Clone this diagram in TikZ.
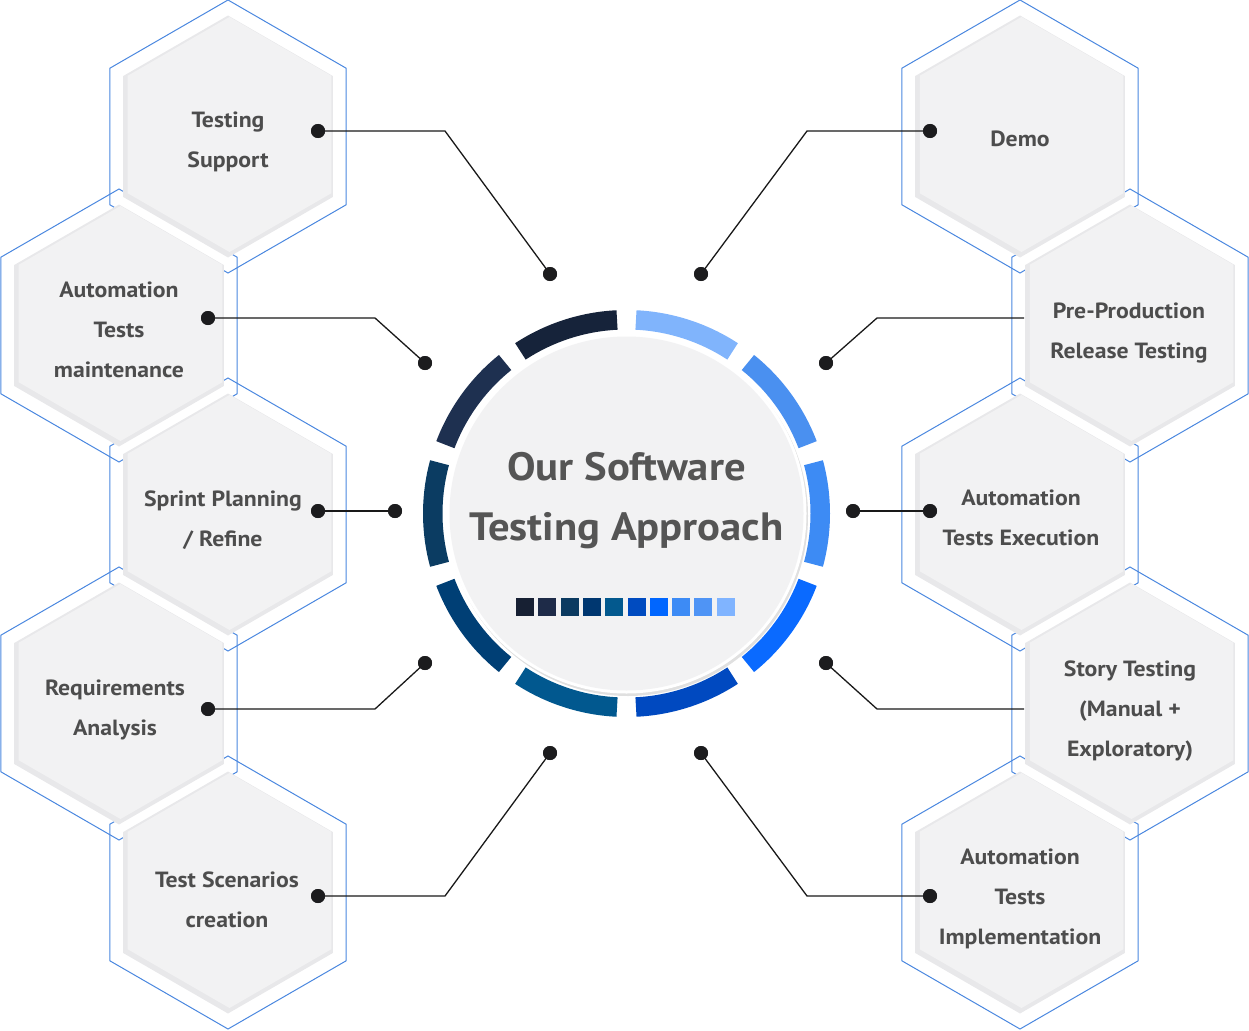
\documentclass[tikz,border=0pt]{standalone}
\usepackage{fontspec}
\setmainfont{PT Sans}[FakeStretch=1.08]
\usetikzlibrary{calc}
\definecolor{hexline}{HTML}{4A87DF}
\definecolor{hexedge}{HTML}{E8E8EA}
\definecolor{hexfill}{HTML}{F2F2F3}
\definecolor{txt}{HTML}{4D4D4D}
\definecolor{titletxt}{HTML}{555555}
\definecolor{dotc}{HTML}{1C1C1E}
\definecolor{cA}{HTML}{80B4FC}
\definecolor{cB}{HTML}{4A90F0}
\definecolor{cC}{HTML}{3D8BF4}
\definecolor{cD}{HTML}{0A6AFF}
\definecolor{cE}{HTML}{0049C0}
\definecolor{cF}{HTML}{01588F}
\definecolor{cG}{HTML}{003F75}
\definecolor{cH}{HTML}{0B3C62}
\definecolor{cI}{HTML}{1E3050}
\definecolor{cJ}{HTML}{16233A}
\newcommand{\hexpath}[2]{(#1) +(30:#2) -- +(90:#2) -- +(150:#2) -- +(210:#2) -- +(270:#2) -- +(330:#2) -- cycle}
\tikzset{
  hexout/.style={draw=hexline, line width=1},
  hexlabel/.style={align=center, text=txt, font=\bfseries\fontsize{22}{40}\selectfont},
  dot/.style={circle, fill=dotc, inner sep=0, minimum size=14},
  conn/.style={draw=black!90, line width=1.3},
  sq/.style={minimum size=18, inner sep=0}
}
\begin{document}
\begin{tikzpicture}[x=1pt,y=-1pt]
\useasboundingbox (0,0) rectangle (1249,1030);
% hexagon centres
\coordinate (h1) at (228,136.5);
\coordinate (h2) at (119,325.5);
\coordinate (h3) at (228,514.5);
\coordinate (h4) at (119,703.5);
\coordinate (h5) at (228,892.5);
\coordinate (h6) at (1020,136.5);
\coordinate (h7) at (1130,325.5);
\coordinate (h8) at (1020,514.5);
\coordinate (h9) at (1130,703.5);
\coordinate (h10) at (1020,892.5);
% outlines
\foreach \h in {h1,h2,h3,h4,h5,h6,h7,h8,h9,h10}{
  \path[hexout] \hexpath{\h}{136.5};
}
% grey hexagons
\foreach \h in {h1,h2,h3,h4,h5,h6,h7,h8,h9,h10}{
  \fill[hexedge] \hexpath{\h}{121};
  \fill[hexfill] \hexpath{[shift={(1.5,-2)}]\h}{117.5};
}
% labels
\node[hexlabel] (t1) at (228,142) {Testing\\Support};
\node[hexlabel] (t2) at (119,330) {Automation\\Tests\\maintenance};
\node[hexlabel] (t3) at (223,520) {Sprint Planning\\/ Refine};
\node[hexlabel] (t4) at (115,710) {Requirements\\Analysis};
\node[hexlabel] (t5) at (227,900) {Test Scenarios\\creation};
\node[hexlabel] (t6) at (1020,139) {Demo};
\node[hexlabel] (t7) at (1129,333) {Pre-Production\\Release Testing};
\node[hexlabel] (t8) at (1021,518) {Automation\\Tests Execution};
\node[hexlabel] (t9) at (1130,711) {Story Testing\\(Manual +\\Exploratory)};
\node[hexlabel] (t10) at (1020,899) {Automation\\Tests\\Implementation};
% centre circle
\coordinate (cc) at (626.5,513.5);
\foreach \a/\col in {-72/cA,-36/cB,0/cC,36/cD,72/cE,108/cF,144/cG,180/cH,216/cI,252/cJ}{
  \draw[line width=19.5, \col] ([shift={(\a+15.2:193.75)}]cc) arc[start angle=\a+15.2, end angle=\a-15.2, radius=193.75];
}
\fill[black!12] ([shift={(1.5,2.5)}]cc) circle[radius=180];
\fill[white] (cc) circle[radius=180];
\fill[hexfill] (cc) circle[radius=177];
\node[align=center, text=titletxt, font=\bfseries\fontsize{39.5}{60}\selectfont] (title) at (626.5,501) {Our Software\\Testing Approach};
% colour squares
\foreach \i/\col in {0/172033,1/1E2B48,2/0B3A60,3/003770,4/03598E,5/004BC0,6/0066FF,7/3D8BF5,8/4F94F5,9/80B4FF}{
  \definecolor{tmpc}{HTML}{\col}
  \node[sq, fill=tmpc] (s\i) at ({525+22.3*\i},607) {};
}
% connectors - left
\node[dot] (a1) at (318,131) {};
\node[dot] (b1) at (550,274) {};
\coordinate (k1) at (445,131);
\draw[conn] (a1.center) -- (k1) -- (b1.center);
\node[dot] (a2) at (208,318) {};
\node[dot] (b2) at (425,363) {};
\coordinate (k2) at (375,318);
\draw[conn] (a2.center) -- (k2) -- (b2.center);
\node[dot] (a3) at (318,511) {};
\node[dot] (b3) at (395,511) {};
\draw[conn] (a3.center) -- (b3.center);
\node[dot] (a4) at (208,709) {};
\node[dot] (b4) at (425,663) {};
\coordinate (k4) at (375,709);
\draw[conn] (a4.center) -- (k4) -- (b4.center);
\node[dot] (a5) at (318,896) {};
\node[dot] (b5) at (550,753) {};
\coordinate (k5) at (445,896);
\draw[conn] (a5.center) -- (k5) -- (b5.center);
% connectors - right
\node[dot] (a6) at (930,131) {};
\node[dot] (b6) at (701,274) {};
\coordinate (k6) at (807,131);
\draw[conn] (a6.center) -- (k6) -- (b6.center);
\coordinate (a7) at (1024,318);
\node[dot] (b7) at (826,363) {};
\coordinate (k7) at (877,318);
\draw[conn] (a7) -- (k7) -- (b7.center);
\node[dot] (a8) at (930,511) {};
\node[dot] (b8) at (853,511) {};
\draw[conn] (a8.center) -- (b8.center);
\coordinate (a9) at (1024,709);
\node[dot] (b9) at (826,663) {};
\coordinate (k9) at (877,709);
\draw[conn] (a9) -- (k9) -- (b9.center);
\node[dot] (a10) at (930,896) {};
\node[dot] (b10) at (701,753) {};
\coordinate (k10) at (807,896);
\draw[conn] (a10.center) -- (k10) -- (b10.center);
% redraw dots on top
\foreach \d in {a1,b1,a2,b2,a3,b3,a4,b4,a5,b5,a6,b6,b7,a8,b8,b9,a10,b10}{
  \fill[dotc] (\d) circle[radius=7];
}
\end{tikzpicture}
\end{document}
